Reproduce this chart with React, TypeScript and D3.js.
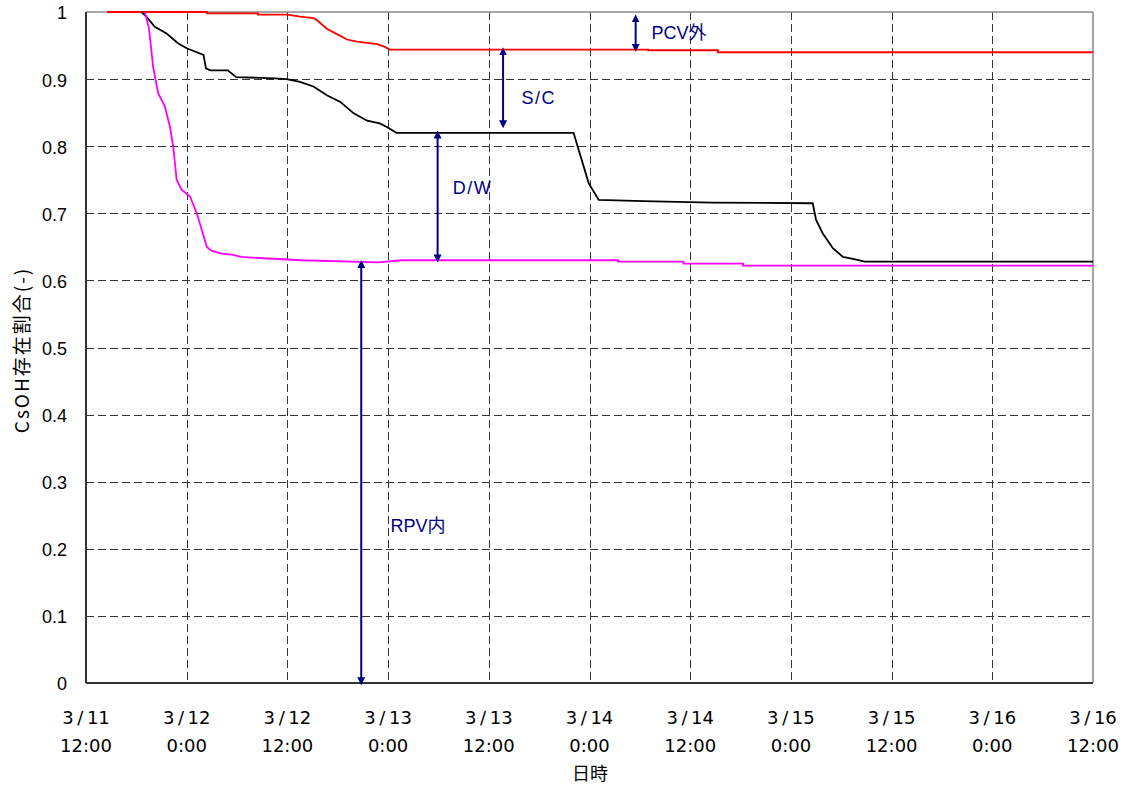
import React from 'react';
import * as d3 from 'd3';

// hours since 3/11 12:00, CsOH fraction
const redSeries: [number, number][] = [
  [2.5, 1.0], [14.4, 1.0], [14.4, 0.998], [20.5, 0.998], [20.5, 0.996], [24.0, 0.996],
  [25.5, 0.993], [27.1, 0.991], [27.5, 0.988], [28.7, 0.975], [29.9, 0.967], [31.1, 0.959],
  [32.3, 0.956], [33.5, 0.954], [34.7, 0.952], [35.6, 0.948], [36.2, 0.944], [67.0, 0.944],
  [67.0, 0.943], [75.3, 0.943], [75.3, 0.940], [120, 0.940],
];

const blackSeries: [number, number][] = [
  [6.6, 1.0], [7.2, 0.993], [8.2, 0.978], [9.6, 0.968], [11.0, 0.953], [12.0, 0.946],
  [14.0, 0.936], [14.3, 0.916], [14.8, 0.913], [16.9, 0.913], [17.9, 0.903], [22.5, 0.901],
  [23.9, 0.900], [25.5, 0.896], [27.1, 0.889], [28.7, 0.876], [30.3, 0.866], [31.9, 0.849],
  [33.5, 0.838], [35.0, 0.834], [35.8, 0.829], [37.0, 0.820], [58.1, 0.820], [59.9, 0.745],
  [61.1, 0.720], [66.4, 0.718], [74.6, 0.716], [86.6, 0.715], [87.0, 0.690], [87.8, 0.670],
  [89.0, 0.648], [90.2, 0.635], [91.4, 0.632], [92.8, 0.628], [120, 0.628],
];

const magentaSeries: [number, number][] = [
  [7.0, 1.0], [7.5, 0.976], [8.0, 0.918], [8.6, 0.879], [9.4, 0.859], [10.0, 0.829],
  [10.4, 0.799], [10.8, 0.750], [11.4, 0.735], [12.4, 0.725], [13.2, 0.700], [13.8, 0.675],
  [14.4, 0.650], [15.0, 0.644], [16.2, 0.640], [17.5, 0.638], [18.5, 0.635], [21.1, 0.633],
  [25.7, 0.630], [34.8, 0.627], [37.6, 0.630], [63.4, 0.630], [63.4, 0.628], [71.2, 0.628],
  [71.2, 0.625], [78.3, 0.625], [78.3, 0.622], [120, 0.622],
];

const xTicks = [0, 12, 24, 36, 48, 60, 72, 84, 96, 108, 120];
const xTickDates = ['3/11', '3/12', '3/12', '3/13', '3/13', '3/14', '3/14', '3/15', '3/15', '3/16', '3/16'];
const xTickTimes = ['12:00', '0:00', '12:00', '0:00', '12:00', '0:00', '12:00', '0:00', '12:00', '0:00', '12:00'];
const yTicks = [0, 0.1, 0.2, 0.3, 0.4, 0.5, 0.6, 0.7, 0.8, 0.9, 1];

// annotation arrows: x (hours), from, to, label
const arrowX = [65.5, 49.7, 41.9, 32.8];
const arrowTop = [0.993, 0.944, 0.820, 0.627];
const arrowBottom = [0.944, 0.830, 0.630, 0];
const arrowLabels = ['PCV外', 'S/C', 'D/W', 'RPV内'];
const labelX = [67.4, 51.9, 43.7, 36.3];
const labelY = [0.969, 0.872, 0.739, 0.234];

const W = 1129;
const H = 789;
const left = 86, right = 1093, top = 12, bottom = 683;
const numFont = '"Liberation Sans", Arial, "Noto Sans CJK JP", sans-serif';
const gothic = '"DejaVu Sans", "Noto Sans CJK JP", sans-serif';
const cjk = '"Noto Sans CJK JP", sans-serif';
const navy = '#000080';

export default function App() {
  const x = d3.scaleLinear().domain([0, 120]).range([left, right]);
  const y = d3.scaleLinear().domain([0, 1]).range([bottom, top]);
  const line = d3.line<[number, number]>().x(d => x(d[0])).y(d => y(d[1]));

  return (
    <div style={{ position: 'fixed', left: 0, top: 0 }}>
      <svg width={W} height={H} style={{ display: 'block', background: '#fff' }}>
        <defs>
          <marker id="ah" viewBox="0 0 10 10" refX="6" refY="5" markerWidth="4" markerHeight="4" orient="auto-start-reverse">
            <path d="M0,0 L10,5 L0,10 z" fill={navy} />
          </marker>
        </defs>
        {/* grid */}
        <g stroke="#111" strokeWidth={1} strokeDasharray="8,4" opacity={0.85}>
          {yTicks.slice(1, -1).map(t => (
            <line key={'gy' + t} x1={left} x2={right} y1={Math.round(y(t)) + 0.5} y2={Math.round(y(t)) + 0.5} />
          ))}
          {xTicks.slice(1, -1).map(t => (
            <line key={'gx' + t} x1={Math.round(x(t)) + 0.5} x2={Math.round(x(t)) + 0.5} y1={top} y2={bottom} />
          ))}
        </g>
        {/* frame */}
        <line x1={left} x2={right} y1={top} y2={top} stroke="#888" strokeWidth={1.5} />
        <line x1={right} x2={right} y1={top} y2={bottom} stroke="#888" strokeWidth={1.5} />
        <line x1={left} x2={left} y1={top} y2={bottom} stroke="#333" strokeWidth={2} />
        <line x1={left} x2={right} y1={bottom} y2={bottom} stroke="#333" strokeWidth={2} />
        {/* series */}
        <path d={line(redSeries) || ''} fill="none" stroke="#ff0000" strokeWidth={1.8} />
        <path d={line(blackSeries) || ''} fill="none" stroke="#000" strokeWidth={1.8} />
        <path d={line(magentaSeries) || ''} fill="none" stroke="#ff00ff" strokeWidth={1.8} />
        {/* arrows */}
        {arrowX.map((ax, i) => (
          <g key={'a' + i}>
            <line x1={x(ax)} x2={x(ax)} y1={y(arrowTop[i]) + 1} y2={y(arrowBottom[i]) - 1}
              stroke={navy} strokeWidth={2} markerStart="url(#ah)" markerEnd="url(#ah)" />
            <text x={x(labelX[i])} y={y(labelY[i])} dy="0.36em" fill={navy} fontFamily={numFont} fontSize={18}
              letterSpacing={arrowLabels[i].includes('/') ? 1.5 : 0}>
              {arrowLabels[i]}
            </text>
          </g>
        ))}
        {/* y ticks */}
        {yTicks.map(t => (
          <text key={'yt' + t} x={67} y={y(t) + 1} dy="0.36em" textAnchor="end" fontFamily={numFont} fontSize={18}>
            {t === 0 || t === 1 ? String(t) : t.toFixed(1)}
          </text>
        ))}
        {/* x ticks */}
        {xTicks.map((t, i) => (
          <g key={'xt' + t} fontFamily={gothic} fontSize={18} textAnchor="middle">
            <text x={x(t)} y={718} dy="0.36em">{xTickDates[i].replace('/', '\u2009/\u2009')}</text>
            <text x={x(t)} y={746} dy="0.36em">{xTickTimes[i]}</text>
          </g>
        ))}
        <text x={590} y={774} dy="0.36em" textAnchor="middle" fontFamily={cjk} fontSize={18}>日時</text>
        <text transform={`translate(22,350) rotate(-90)`} dy="0.36em" textAnchor="middle" fontFamily={cjk} fontSize={19} letterSpacing={2}>
          CsOH存在割合(-)
        </text>
      </svg>
    </div>
  );
}
